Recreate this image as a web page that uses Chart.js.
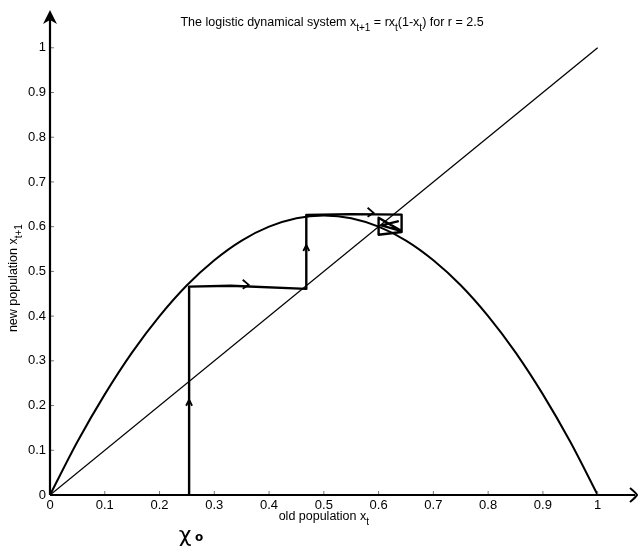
<!DOCTYPE html>
<html>
<head>
<meta charset="utf-8">
<script src="https://cdn.jsdelivr.net/npm/chart.js@4"></script>
<style>
  html, body { margin: 0; padding: 0; background: #fff; }
  #wrap { width: 639px; height: 548px; }
</style>
</head>
<body>
<div id="wrap"><canvas id="wykres"></canvas></div>
<script>
// values
const krzywaX = [0, 0.05, 0.1, 0.15, 0.2, 0.25, 0.3, 0.35, 0.4, 0.45, 0.5, 0.55, 0.6, 0.65, 0.7, 0.75, 0.8, 0.85, 0.9, 0.95, 1];
const krzywaY = [0, 0.119, 0.225, 0.319, 0.4, 0.469, 0.525, 0.569, 0.6, 0.619, 0.625, 0.619, 0.6, 0.569, 0.525, 0.469, 0.4, 0.319, 0.225, 0.119, 0];
const przekatnaX = [0, 1];
const przekatnaY = [0, 1];
// hand-drawn cobweb
const pajeczynaX = [0.254, 0.254, 0.33, 0.468, 0.468, 0.55, 0.642, 0.642, 0.600, 0.600, 0.642, 0.605, 0.635];
const pajeczynaY = [-0.01, 0.466, 0.468, 0.461, 0.626, 0.628, 0.627, 0.588, 0.582, 0.620, 0.590, 0.603, 0.612];
// arrows on the cobweb: position and direction
const strzalkiX = [0.254, 0.361, 0.468, 0.589];
const strzalkiY = [0.213, 0.470, 0.559, 0.631];
const strzalkiKier = ['up', 'right', 'up', 'right'];
const ticki = [0, 0.1, 0.2, 0.3, 0.4, 0.5, 0.6, 0.7, 0.8, 0.9, 1];

const czcionka = '"Liberation Sans", Arial, sans-serif';

function punkty(xs, ys) {
    return xs.map((x, i) => ({ x: x, y: ys[i] }));
}

// text with subscripts: parts = [[text, isSub], ...]
function tekstZIndeksami(ctx, parts, x, y, size, align) {
    ctx.save();
    ctx.textBaseline = 'middle';
    ctx.textAlign = 'left';
    let szer = 0;
    parts.forEach(p => {
        ctx.font = (p[1] ? size * 0.8 : size) + 'px ' + czcionka;
        szer += ctx.measureText(p[0]).width;
    });
    let px = align === 'center' ? x - szer / 2 : x;
    parts.forEach(p => {
        ctx.font = (p[1] ? size * 0.8 : size) + 'px ' + czcionka;
        ctx.fillText(p[0], px, p[1] ? y + size * 0.45 : y);
        px += ctx.measureText(p[0]).width;
    });
    ctx.restore();
}

const osiePlugin = {
    id: 'osie',
    afterDraw(chart) {
        const ctx = chart.ctx;
        const sx = chart.scales.x, sy = chart.scales.y;
        const x0 = sx.getPixelForValue(0), y0 = sy.getPixelForValue(0);
        const area = chart.chartArea;

        ctx.save();
        ctx.fillStyle = '#000';

        // tick marks inside the axes
        ctx.strokeStyle = '#777';
        ctx.lineWidth = 1;
        ticki.forEach(t => {
            const px = sx.getPixelForValue(t);
            ctx.beginPath(); ctx.moveTo(px, y0); ctx.lineTo(px, y0 - 4); ctx.stroke();
            const py = sy.getPixelForValue(t);
            ctx.beginPath(); ctx.moveTo(x0, py); ctx.lineTo(x0 + 4, py); ctx.stroke();
        });

        // axes with arrows
        ctx.strokeStyle = '#000';
        ctx.lineWidth = 2.2;
        ctx.beginPath();
        ctx.moveTo(x0, y0); ctx.lineTo(x0, area.top + 2);
        ctx.moveTo(x0, y0); ctx.lineTo(area.right - 1, y0);
        ctx.stroke();
        ctx.beginPath();
        ctx.moveTo(x0, area.top - 2);
        ctx.lineTo(x0 - 7, area.top + 12);
        ctx.lineTo(x0, area.top + 8);
        ctx.lineTo(x0 + 7, area.top + 12);
        ctx.closePath();
        ctx.fill();
        ctx.lineWidth = 2;
        ctx.beginPath();
        ctx.moveTo(area.right - 6, y0 - 7);
        ctx.quadraticCurveTo(area.right, y0 - 2, area.right + 1, y0);
        ctx.quadraticCurveTo(area.right, y0 + 2, area.right - 6, y0 + 7);
        ctx.stroke();

        // arrows on cobweb
        ctx.lineWidth = 1.8;
        strzalkiX.forEach((v, i) => {
            const px = sx.getPixelForValue(v), py = sy.getPixelForValue(strzalkiY[i]);
            ctx.beginPath();
            if (strzalkiKier[i] === 'up') {
                ctx.moveTo(px - 3, py + 6); ctx.lineTo(px, py); ctx.lineTo(px + 3, py + 6);
            } else {
                ctx.moveTo(px - 5, py - 5); ctx.lineTo(px + 1, py); ctx.lineTo(px - 5, py + 4);
            }
            ctx.stroke();
        });

        // title and axis titles
        ctx.fillStyle = '#000';
        tekstZIndeksami(ctx, [['The logistic dynamical system x', false], ['t+1', true], [' = rx', false], ['t', true], ['(1-x', false], ['t', true], [') for r = 2.5', false]], sx.getPixelForValue(0.515), 23, 12.5, 'center');
        tekstZIndeksami(ctx, [['old population x', false], ['t', true]], sx.getPixelForValue(0.5), 517, 12.5, 'center');
        ctx.save();
        ctx.translate(14, sy.getPixelForValue(0.485));
        ctx.rotate(-Math.PI / 2);
        tekstZIndeksami(ctx, [['new population x', false], ['t+1', true]], 0, 0, 12.5, 'center');
        ctx.restore();

        // hand-written x0 label under the start point
        ctx.font = '22px "DejaVu Sans", sans-serif';
        ctx.textAlign = 'center';
        ctx.textBaseline = 'middle';
        ctx.fillText('χ', sx.getPixelForValue(0.254) - 4, 536);
        ctx.font = 'bold 12px "DejaVu Sans", sans-serif';
        ctx.fillText('o', sx.getPixelForValue(0.254) + 10, 538);
        ctx.restore();
    }
};

const ctx = document.getElementById('wykres').getContext('2d');
const mojWykres = new Chart(ctx, {
    type: 'scatter',
    data: {
        datasets: [
            {
                label: 'f(x)',
                data: punkty(krzywaX, krzywaY),
                showLine: true,
                borderColor: '#000',
                borderWidth: 2,
                pointRadius: 0,
                cubicInterpolationMode: 'monotone'
            },
            {
                label: 'y = x',
                data: punkty(przekatnaX, przekatnaY),
                showLine: true,
                borderColor: '#000',
                borderWidth: 1.3,
                pointRadius: 0
            },
            {
                label: 'pajeczyna',
                data: punkty(pajeczynaX, pajeczynaY),
                showLine: true,
                borderColor: '#000',
                borderWidth: 2.4,
                borderJoinStyle: 'round',
                borderCapStyle: 'round',
                pointRadius: 0,
                tension: 0
            }
        ]
    },
    options: {
        responsive: true,
        maintainAspectRatio: false,
        animation: false,
        layout: { padding: { top: 12, right: 3, left: 0, bottom: 0 } },
        plugins: {
            legend: { display: false },
            tooltip: { enabled: false }
        },
        scales: {
            x: {
                type: 'linear',
                min: 0,
                max: 1.07,
                afterBuildTicks: s => { s.ticks = ticki.map(v => ({ value: v })); },
                afterFit: s => { s.height = 53; },
                grid: { display: false, drawTicks: false, tickLength: 0 },
                border: { display: false },
                ticks: {
                    color: '#000',
                    padding: 3,
                    font: { family: czcionka, size: 13 },
                    maxRotation: 0,
                    callback: v => String(Math.round(v * 10) / 10)
                }
            },
            y: {
                type: 'linear',
                min: 0,
                max: 1.08,
                afterBuildTicks: s => { s.ticks = ticki.map(v => ({ value: v })); },
                afterFit: s => { s.width = 50; },
                grid: { display: false, drawTicks: false, tickLength: 0 },
                border: { display: false },
                ticks: {
                    color: '#000',
                    padding: 4,
                    font: { family: czcionka, size: 13 },
                    callback: v => String(Math.round(v * 10) / 10)
                }
            }
        }
    },
    plugins: [osiePlugin]
});
</script>
</body>
</html>
